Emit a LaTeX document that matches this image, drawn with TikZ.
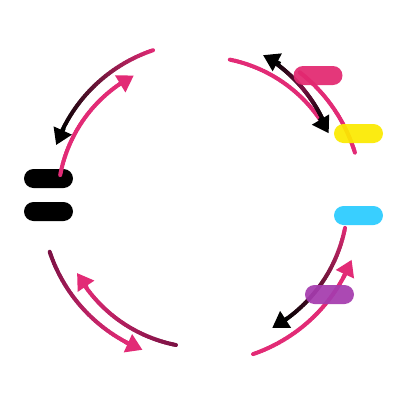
\documentclass[tikz,border=0pt]{standalone}
\usetikzlibrary{arrows.meta}
\definecolor{pk}{HTML}{E22B76}
\definecolor{dm}{HTML}{7A1143}
\definecolor{yl}{HTML}{FBEA00}
\definecolor{cy}{HTML}{33CEFF}
\definecolor{pu}{HTML}{A53CAE}
\definecolor{mg}{HTML}{E22870}
\tikzset{
  pill/.style={rounded corners=9.5pt, minimum width=49pt, minimum height=19pt, inner sep=0pt, draw=none},
  seg/.style={line width=4pt, line cap=round},
  tipline/.style={line width=4pt, -{Triangle[length=16pt,width=19pt]}}
}
% #1 r start, #2 angle start, #3 r end, #4 angle end, #5 colour start, #6 colour end
\newcommand{\gradarc}[6]{%
  \foreach \i in {1,...,40}{%
    \pgfmathsetmacro\ta{#2+(#4-#2)*(\i-1)/40}%
    \pgfmathsetmacro\tb{#2+(#4-#2)*\i/40}%
    \pgfmathsetmacro\ra{#1+(#3-#1)*(\i-1)/40}%
    \pgfmathsetmacro\rb{#1+(#3-#1)*\i/40}%
    \pgfmathsetmacro\pc{100*(\i-0.5)/40}%
    \draw[seg, color=#6!\pc!#5] ({200+\ra*cos(\ta)},{200-\ra*sin(\ta)}) -- ({200+\rb*cos(\tb)},{200-\rb*sin(\tb)});
  }}
% #1 radius, #2 tip angle, #3 back offset, #4 colour
\newcommand{\tiphead}[4]{%
  \draw[tipline, #4] ({200+#1*cos(#2-#3)},{200-#1*sin(#2-#3)}) -- ({200+#1*cos(#2)},{200-#1*sin(#2)});}
\begin{document}
\begin{tikzpicture}[x=1pt,y=-1pt]
\useasboundingbox[fill=white] (0,0) rectangle (400,400);
% black pills
\node[pill, fill=black] (b1) at (48.5,178.5) {};
\node[pill, fill=black] (b2) at (48.5,211.5) {};
% top-left
\gradarc{157}{107.4}{154.3}{154}{pk}{black}
\tiphead{154}{159.1}{7}{black}
\gradarc{142}{169.9}{141}{123}{pk}{pk}
\tiphead{141}{118}{-7}{pk}
% top-right
\gradarc{143.5}{78}{144.5}{34}{pk}{pk}
\gradarc{162}{52}{162}{17}{pk}{pk}
\gradarc{156.5}{61.5}{151.5}{47}{black}{dm}
\gradarc{151.5}{47}{146.5}{32.4}{dm}{black}
\tiphead{158}{66.5}{7}{black}
\tiphead{145}{27.4}{-7}{black}
% bottom-right
\gradarc{147.7}{-10.9}{147.1}{-55.6}{pk}{black}
\tiphead{147}{-60.6}{-7}{black}
\gradarc{163}{-71}{163}{-26.5}{pk}{pk}
\tiphead{163}{-21.5}{7}{pk}
% bottom-left
\gradarc{159}{199}{160.3}{244}{dm}{pk}
\tiphead{160.5}{249}{7}{pk}
\gradarc{147}{260.6}{143.5}{215.7}{dm}{pk}
\tiphead{143}{210.7}{-7}{pk}
% coloured pills
\node[pill, fill=mg, fill opacity=0.93] (m) at (318,75.5) {};
\node[pill, fill=yl, fill opacity=0.93] (y) at (358.5,133.5) {};
\node[pill, fill=cy, fill opacity=0.97] (c) at (358.5,215.5) {};
\node[pill, fill=pu, fill opacity=0.93] (p) at (329.5,294.5) {};
\end{tikzpicture}
\end{document}
